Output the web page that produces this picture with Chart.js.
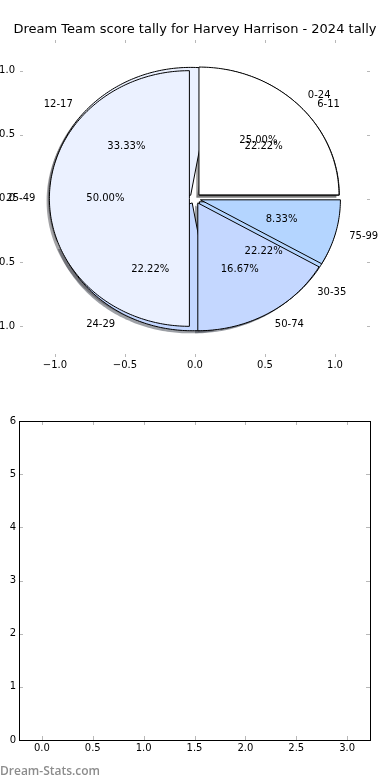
<!DOCTYPE html>
<html>
<head>
<meta charset="utf-8">
<script src="https://cdn.jsdelivr.net/npm/chart.js@4.4.0/dist/chart.umd.min.js"></script>
<style>
  html, body { margin: 0; padding: 0; background: #fff; width: 390px; height: 780px; overflow: hidden; }
  #wrap-top { position: absolute; left: 0; top: 0; width: 390px; height: 390px; }
  #wrap-bot { position: absolute; left: 0; top: 390px; width: 390px; height: 390px; }
  #brand { position: absolute; left: 0; top: 762px; font: 600 12px 'Open Sans', sans-serif; color: #8c8c8c; }
</style>
</head>
<body>
<div id="wrap-top"><canvas id="chart-pie"></canvas></div>
<div id="wrap-bot"><canvas id="chart-empty"></canvas></div>
<div id="brand">Dream-Stats.com</div>
<script>
// ---- data ----
const TITLE = 'Dream Team score tally for Harvey Harrison - 2024 tally';
const tallyLabels = ['0-24', '25-49', '50-74', '75-99'];
const tallyCounts = [3, 6, 2, 1];
const roundLabels = ['6-11', '12-17', '24-29', '30-35'];
const roundCounts = [2, 3, 2, 2];
const sliceColors = ['#ffffff', '#ebf1ff', '#c4d7ff', '#b4d5ff'];
const pieTicks = [-1, -0.5, 0, 0.5, 1];
const emptyXTicks = [0, 0.5, 1, 1.5, 2, 2.5, 3];
const emptyYTicks = [0, 1, 2, 3, 4, 5, 6];

const EXPLODE = 0.04;
const SHADOW = -0.02;
const FONT = '"DejaVu Sans", sans-serif';
const RAD = Math.PI / 180;

const fmt1 = v => Number(v).toFixed(1).replace('-', '\u2212');

// turn counts into angular slices, counter-clockwise from 3 o'clock
function pieSlices(values) {
  const total = values.reduce((a, b) => a + b, 0);
  let start = 0;
  return values.map(v => {
    const sweep = v / total * 360;
    const s = { start, end: start + sweep, mid: start + sweep / 2, pct: v / total * 100 };
    start += sweep;
    return s;
  });
}

function wedgePath(ctx, xs, ys, s, ox, oy) {
  const cx = EXPLODE * Math.cos(s.mid * RAD) + ox;
  const cy = EXPLODE * Math.sin(s.mid * RAD) + oy;
  ctx.beginPath();
  ctx.moveTo(xs.getPixelForValue(cx), ys.getPixelForValue(cy));
  const n = Math.max(8, Math.ceil(s.end - s.start));
  for (let i = 0; i <= n; i++) {
    const t = (s.start + (s.end - s.start) * i / n) * RAD;
    ctx.lineTo(xs.getPixelForValue(cx + Math.cos(t)), ys.getPixelForValue(cy + Math.sin(t)));
  }
  ctx.closePath();
}

function shadowOf(hex) {
  const n = parseInt(hex.slice(1), 16);
  const r = Math.round(((n >> 16) & 255) * 0.3), g = Math.round(((n >> 8) & 255) * 0.3), b = Math.round((n & 255) * 0.3);
  return `rgba(${r},${g},${b},0.5)`;
}

// matplotlib-like double pie: shadows first, then wedges, then texts
const piePlugin = {
  id: 'pies',
  afterDraw(chart) {
    const ctx = chart.ctx, xs = chart.scales.x, ys = chart.scales.y;
    const pies = [
      { labels: roundLabels, slices: pieSlices(roundCounts) },
      { labels: tallyLabels, slices: pieSlices(tallyCounts) },
    ];
    ctx.save();
    pies.forEach(p => p.slices.forEach((s, i) => {
      wedgePath(ctx, xs, ys, s, SHADOW, SHADOW);
      ctx.fillStyle = shadowOf(sliceColors[i]);
      ctx.fill();
    }));
    ctx.lineWidth = 1;
    ctx.strokeStyle = '#000';
    pies.forEach(p => p.slices.forEach((s, i) => {
      wedgePath(ctx, xs, ys, s, 0, 0);
      ctx.fillStyle = sliceColors[i];
      ctx.fill();
      ctx.stroke();
    }));
    ctx.fillStyle = '#000';
    ctx.font = '10px ' + FONT;
    ctx.textBaseline = 'middle';
    pies.forEach(p => p.slices.forEach((s, i) => {
      const c = Math.cos(s.mid * RAD), sn = Math.sin(s.mid * RAD);
      const ex = EXPLODE * c, ey = EXPLODE * sn;
      const lx = ex + 1.1 * c, ly = ey + 1.1 * sn;
      ctx.textAlign = lx > 0 ? 'left' : 'right';
      ctx.fillText(p.labels[i], xs.getPixelForValue(lx), ys.getPixelForValue(ly));
      ctx.textAlign = 'center';
      ctx.fillText(s.pct.toFixed(2) + '%', xs.getPixelForValue(ex + 0.6 * c), ys.getPixelForValue(ey + 0.6 * sn));
    }));
    ctx.restore();
  }
};

// short inward tick marks on all four sides, optional black frame
const innerTicks = {
  id: 'innerTicks',
  afterDraw(chart, args, opts) {
    const ctx = chart.ctx, a = chart.chartArea, xs = chart.scales.x, ys = chart.scales.y;
    const L = opts.length || 4;
    ctx.save();
    ctx.strokeStyle = opts.color || '#b0b0b0';
    ctx.lineWidth = 1;
    ctx.beginPath();
    xs.ticks.forEach(t => {
      const x = Math.round(xs.getPixelForValue(t.value)) + 0.5;
      ctx.moveTo(x, a.top); ctx.lineTo(x, a.top + L);
      ctx.moveTo(x, a.bottom); ctx.lineTo(x, a.bottom - L);
    });
    ys.ticks.forEach(t => {
      const y = Math.round(ys.getPixelForValue(t.value)) + 0.5;
      ctx.moveTo(a.left, y); ctx.lineTo(a.left + L, y);
      ctx.moveTo(a.right, y); ctx.lineTo(a.right - L, y);
    });
    ctx.stroke();
    if (opts.frame) {
      ctx.strokeStyle = '#000';
      ctx.strokeRect(Math.round(a.left) + 0.5, Math.round(a.top) + 0.5,
        Math.round(a.right - a.left), Math.round(a.bottom - a.top));
    }
    ctx.restore();
  }
};

function axis(min, max, tickVals, fmt, fitSize, pad, horizontal) {
  return {
    type: 'linear', min, max,
    grid: { display: false, drawTicks: false },
    border: { display: false },
    afterBuildTicks: s => { s.ticks = tickVals.map(v => ({ value: v })); },
    afterFit: s => { if (horizontal) s.height = fitSize; else s.width = fitSize; },
    ticks: { padding: pad, color: '#000', font: { family: FONT, size: 10 }, callback: fmt, maxRotation: 0, autoSkip: false },
  };
}

// blank right-hand axis, only used to reserve space so the title stays centred on the canvas
function spacer(width) {
  return {
    type: 'linear', position: 'right', min: 0, max: 1,
    grid: { display: false, drawTicks: false },
    border: { display: false },
    ticks: { display: false },
    afterFit: s => { s.width = width; },
  };
}

new Chart(document.getElementById('chart-pie'), {
  type: 'scatter',
  data: { datasets: [{ data: [] }] },
  plugins: [piePlugin, innerTicks],
  options: {
    responsive: true,
    maintainAspectRatio: false,
    animation: false,
    plugins: {
      legend: { display: false },
      tooltip: { enabled: false },
      title: {
        display: true, text: TITLE, color: '#000',
        font: { family: FONT, size: 13, weight: 'normal', lineHeight: '15px' },
        padding: { top: 22, bottom: 3 },
      },
      innerTicks: { length: 3, color: '#b8b8b8' },
    },
    scales: {
      x: axis(-1.25, 1.25, pieTicks, fmt1, 33, 2, true),
      y: axis(-1.24, 1.24, pieTicks, fmt1, 20, 5, false),
      yRight: spacer(20),
    },
  },
});

new Chart(document.getElementById('chart-empty'), {
  type: 'scatter',
  data: { datasets: [{ data: [] }] },
  plugins: [innerTicks],
  options: {
    responsive: true,
    maintainAspectRatio: false,
    animation: false,
    layout: { padding: { top: 31, right: 20 } },
    plugins: {
      legend: { display: false },
      tooltip: { enabled: false },
      innerTicks: { length: 4, color: '#b8b8b8', frame: true },
    },
    scales: {
      x: axis(-0.225, 3.225, emptyXTicks, fmt1, 40, 2, true),
      y: axis(0, 6, emptyYTicks, v => String(v), 19, 3, false),
    },
  },
});
</script>
</body>
</html>
